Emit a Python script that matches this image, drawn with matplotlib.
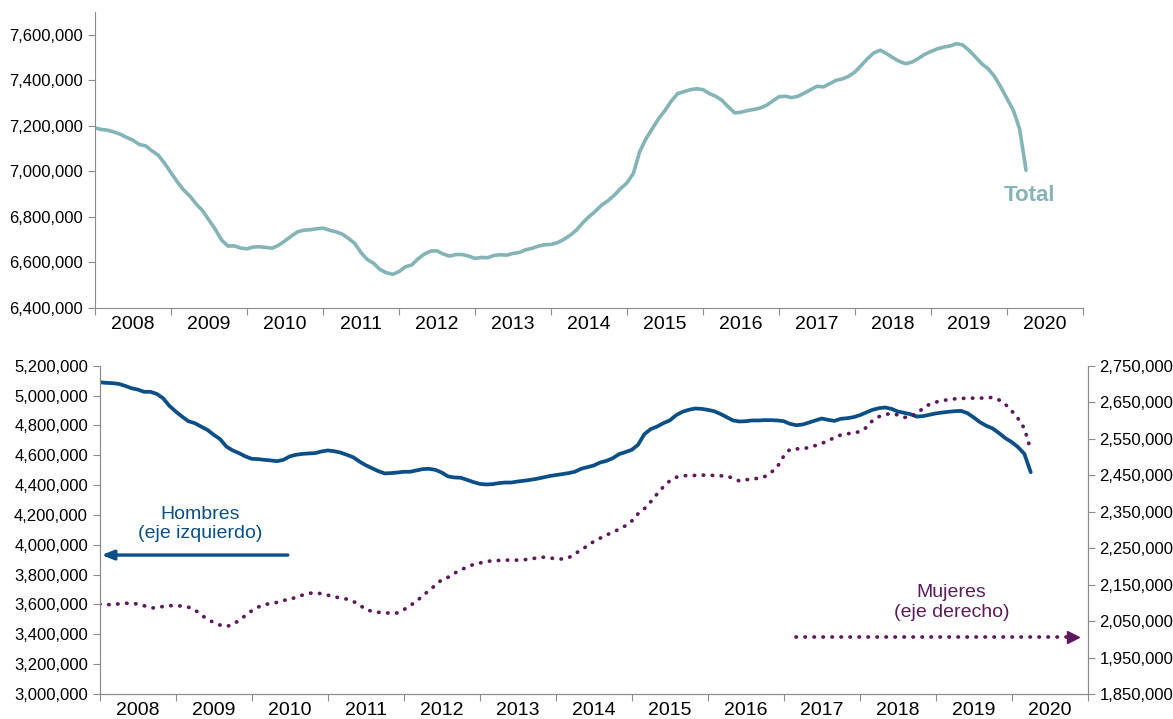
import matplotlib
matplotlib.use("Agg")
import matplotlib.pyplot as plt
import numpy as np
from matplotlib.ticker import FuncFormatter

plt.rcParams['font.family'] = ['Liberation Sans', 'DejaVu Sans']

# ---------------------------------------------------------
# DATA (monthly, Jan 2008 - Apr 2020)
# ---------------------------------------------------------
years = list(range(2008, 2021))

total = [
    7191, 7184, 7181, 7173, 7163, 7149, 7137, 7118, 7112, 7090, 7071, 7035,
    6994, 6954, 6918, 6891, 6856, 6827, 6786, 6745, 6698, 6672, 6673, 6663,
    6660, 6668, 6669, 6666, 6663, 6676, 6695, 6716, 6735, 6742, 6744, 6748,
    6751, 6742, 6735, 6725, 6706, 6684, 6643, 6613, 6596, 6569, 6555, 6548,
    6560, 6581, 6589, 6616, 6637, 6650, 6651, 6637, 6628, 6635, 6635, 6628,
    6618, 6622, 6621, 6631, 6634, 6632, 6640, 6644, 6656, 6662, 6672, 6678,
    6679, 6687, 6701, 6719, 6742, 6774, 6801, 6825, 6852, 6871, 6896, 6925,
    6950, 6991, 7086, 7144, 7188, 7232, 7268, 7309, 7342, 7350, 7359, 7363,
    7359, 7342, 7330, 7312, 7283, 7257, 7260, 7267, 7272, 7278, 7290, 7309,
    7328, 7330, 7324, 7330, 7344, 7359, 7374, 7371, 7385, 7400, 7406, 7418,
    7437, 7466, 7496, 7521, 7532, 7517, 7499, 7483, 7473, 7480, 7496, 7514,
    7527, 7538, 7546, 7551, 7561, 7555, 7532, 7503, 7473, 7451, 7418, 7371,
    7320, 7268, 7185, 7005,
]

hombres = [
    5089, 5085, 5083, 5078, 5065, 5049, 5040, 5025, 5025, 5011, 4982, 4931,
    4893, 4859, 4828, 4815, 4792, 4770, 4737, 4708, 4658, 4632, 4614, 4592,
    4576, 4574, 4569, 4565, 4560, 4569, 4592, 4603, 4609, 4612, 4614, 4625,
    4632, 4627, 4618, 4603, 4587, 4558, 4533, 4513, 4493, 4478, 4480, 4484,
    4489, 4489, 4498, 4507, 4509, 4502, 4484, 4458, 4451, 4449, 4435, 4420,
    4408, 4404, 4406, 4413, 4417, 4417, 4424, 4429, 4435, 4442, 4451, 4460,
    4467, 4473, 4480, 4489, 4509, 4520, 4531, 4551, 4562, 4580, 4607, 4621,
    4636, 4670, 4741, 4775, 4792, 4815, 4833, 4868, 4891, 4904, 4913, 4911,
    4904, 4895, 4877, 4855, 4833, 4826, 4828, 4833, 4833, 4835, 4835, 4833,
    4828, 4810, 4801, 4806, 4819, 4833, 4846, 4837, 4830, 4844, 4848, 4855,
    4868, 4886, 4904, 4915, 4920, 4911, 4893, 4884, 4875, 4859, 4862, 4871,
    4880, 4886, 4891, 4895, 4897, 4882, 4853, 4821, 4797, 4779, 4748, 4714,
    4688, 4654, 4609, 4486,
]

mujeres = [
    2096, 2095, 2095, 2097, 2099, 2098, 2097, 2092, 2086, 2086, 2090, 2092,
    2092, 2091, 2088, 2081, 2067, 2055, 2046, 2039, 2035, 2040, 2052, 2065,
    2078, 2088, 2095, 2098, 2101, 2107, 2108, 2116, 2121, 2126, 2127, 2125,
    2121, 2116, 2114, 2110, 2104, 2095, 2081, 2077, 2074, 2072, 2072, 2072,
    2081, 2092, 2104, 2119, 2134, 2148, 2163, 2170, 2181, 2190, 2198, 2205,
    2209, 2212, 2216, 2216, 2217, 2217, 2217, 2218, 2220, 2223, 2225, 2223,
    2221, 2220, 2223, 2234, 2245, 2256, 2268, 2277, 2286, 2293, 2302, 2311,
    2324, 2344, 2358, 2377, 2398, 2418, 2434, 2444, 2448, 2449, 2449, 2450,
    2450, 2449, 2448, 2448, 2441, 2434, 2437, 2440, 2441, 2446, 2457, 2473,
    2502, 2521, 2522, 2522, 2526, 2531, 2537, 2544, 2553, 2560, 2563, 2566,
    2569, 2580, 2599, 2610, 2616, 2619, 2615, 2608, 2610, 2619, 2633, 2644,
    2650, 2654, 2657, 2659, 2660, 2661, 2661, 2661, 2662, 2663, 2656, 2644,
    2626, 2605, 2578, 2519,
]

total = np.array(total) * 1000
hombres = np.array(hombres) * 1000
mujeres = np.array(mujeres) * 1000
months = np.arange(len(total))

c_total = "#84b4b6"
c_hom = "#0b4f86"
c_muj = "#5c1a5c"
c_axis = "#8c8c8c"

fmt = FuncFormatter(lambda v, p: f"{v:,.0f}")

fig = plt.figure(figsize=(11.73, 7.19), dpi=100)
ax1 = fig.add_axes([0.081, 0.5716, 0.8423, 0.4117])
ax2 = fig.add_axes([0.085, 0.0348, 0.8423, 0.4566])
ax3 = ax2.twinx()


def style_x(ax):
    ax.set_xlim(0, 12 * len(years))
    ax.set_xticks(np.arange(0, 12 * len(years) + 1, 12))
    ax.set_xticklabels([])
    ax.set_xticks(np.arange(6, 12 * len(years), 12), minor=True)
    ax.set_xticklabels([str(y) for y in years], minor=True, fontsize=14)
    ax.tick_params(axis='x', which='major', length=5, color=c_axis, direction='out')
    ax.tick_params(axis='x', which='minor', length=0, pad=6)


# ---------------------------------------------------------
# TOP: TOTAL
# ---------------------------------------------------------
ax1.plot(months, total, color=c_total, lw=2.6, solid_capstyle='round')
ax1.set_ylim(6400000, 7700000)
ax1.set_yticks(np.arange(6400000, 7600001, 200000))
ax1.yaxis.set_major_formatter(fmt)
style_x(ax1)
ax1.tick_params(axis='y', length=5, color=c_axis, labelsize=12)
for s in ['top', 'right']:
    ax1.spines[s].set_visible(False)
for s in ['left', 'bottom']:
    ax1.spines[s].set_color(c_axis)
ax1.text(147.5, 6896000, "Total", color=c_total, fontsize=16, fontweight='bold',
         ha='center', va='center')

# ---------------------------------------------------------
# BOTTOM: HOMBRES (left) / MUJERES (right)
# ---------------------------------------------------------
ax2.plot(months, hombres, color=c_hom, lw=2.7, solid_capstyle='round', zorder=3)
ax2.set_ylim(3000000, 5200000)
ax2.set_yticks(np.arange(3000000, 5200001, 200000))
ax2.yaxis.set_major_formatter(fmt)
style_x(ax2)
ax2.tick_params(axis='y', length=5, color=c_axis, labelsize=12)

ax3.plot(months, mujeres, color=c_muj, lw=2.7, linestyle=(0, (0.1, 2.3)),
         dash_capstyle='round')
ax3.set_ylim(1850000, 2750000)
ax3.set_yticks(np.arange(1850000, 2750001, 100000))
ax3.yaxis.set_major_formatter(fmt)
ax3.tick_params(axis='y', length=5, color=c_axis, labelsize=12)

for ax in (ax2, ax3):
    ax.spines['top'].set_visible(False)
    for s in ['left', 'right', 'bottom']:
        ax.spines[s].set_color(c_axis)

ax2.text(15.8, 4140000, "Hombres\n(eje izquierdo)", color=c_hom, fontsize=14,
         ha='center', va='center', linespacing=1.2)
ax2.annotate("", xy=(0.3, 3931000), xytext=(29.7, 3931000),
             arrowprops=dict(arrowstyle='-|>,head_length=0.7,head_width=0.28',
                             color=c_hom, lw=2.4, shrinkA=0, shrinkB=0))

ax2.text(134.5, 3615000, "Mujeres\n(eje derecho)", color=c_muj, fontsize=14,
         ha='center', va='center', linespacing=1.2)
ax2.plot([110, 153], [3382000, 3382000], color=c_muj, lw=2.7,
         linestyle=(0, (0.1, 2.3)), dash_capstyle='round')
ax2.plot([153.6], [3382000], marker='>', color=c_muj, markersize=8.5, lw=0)

fig.savefig("out.png", dpi=100)
